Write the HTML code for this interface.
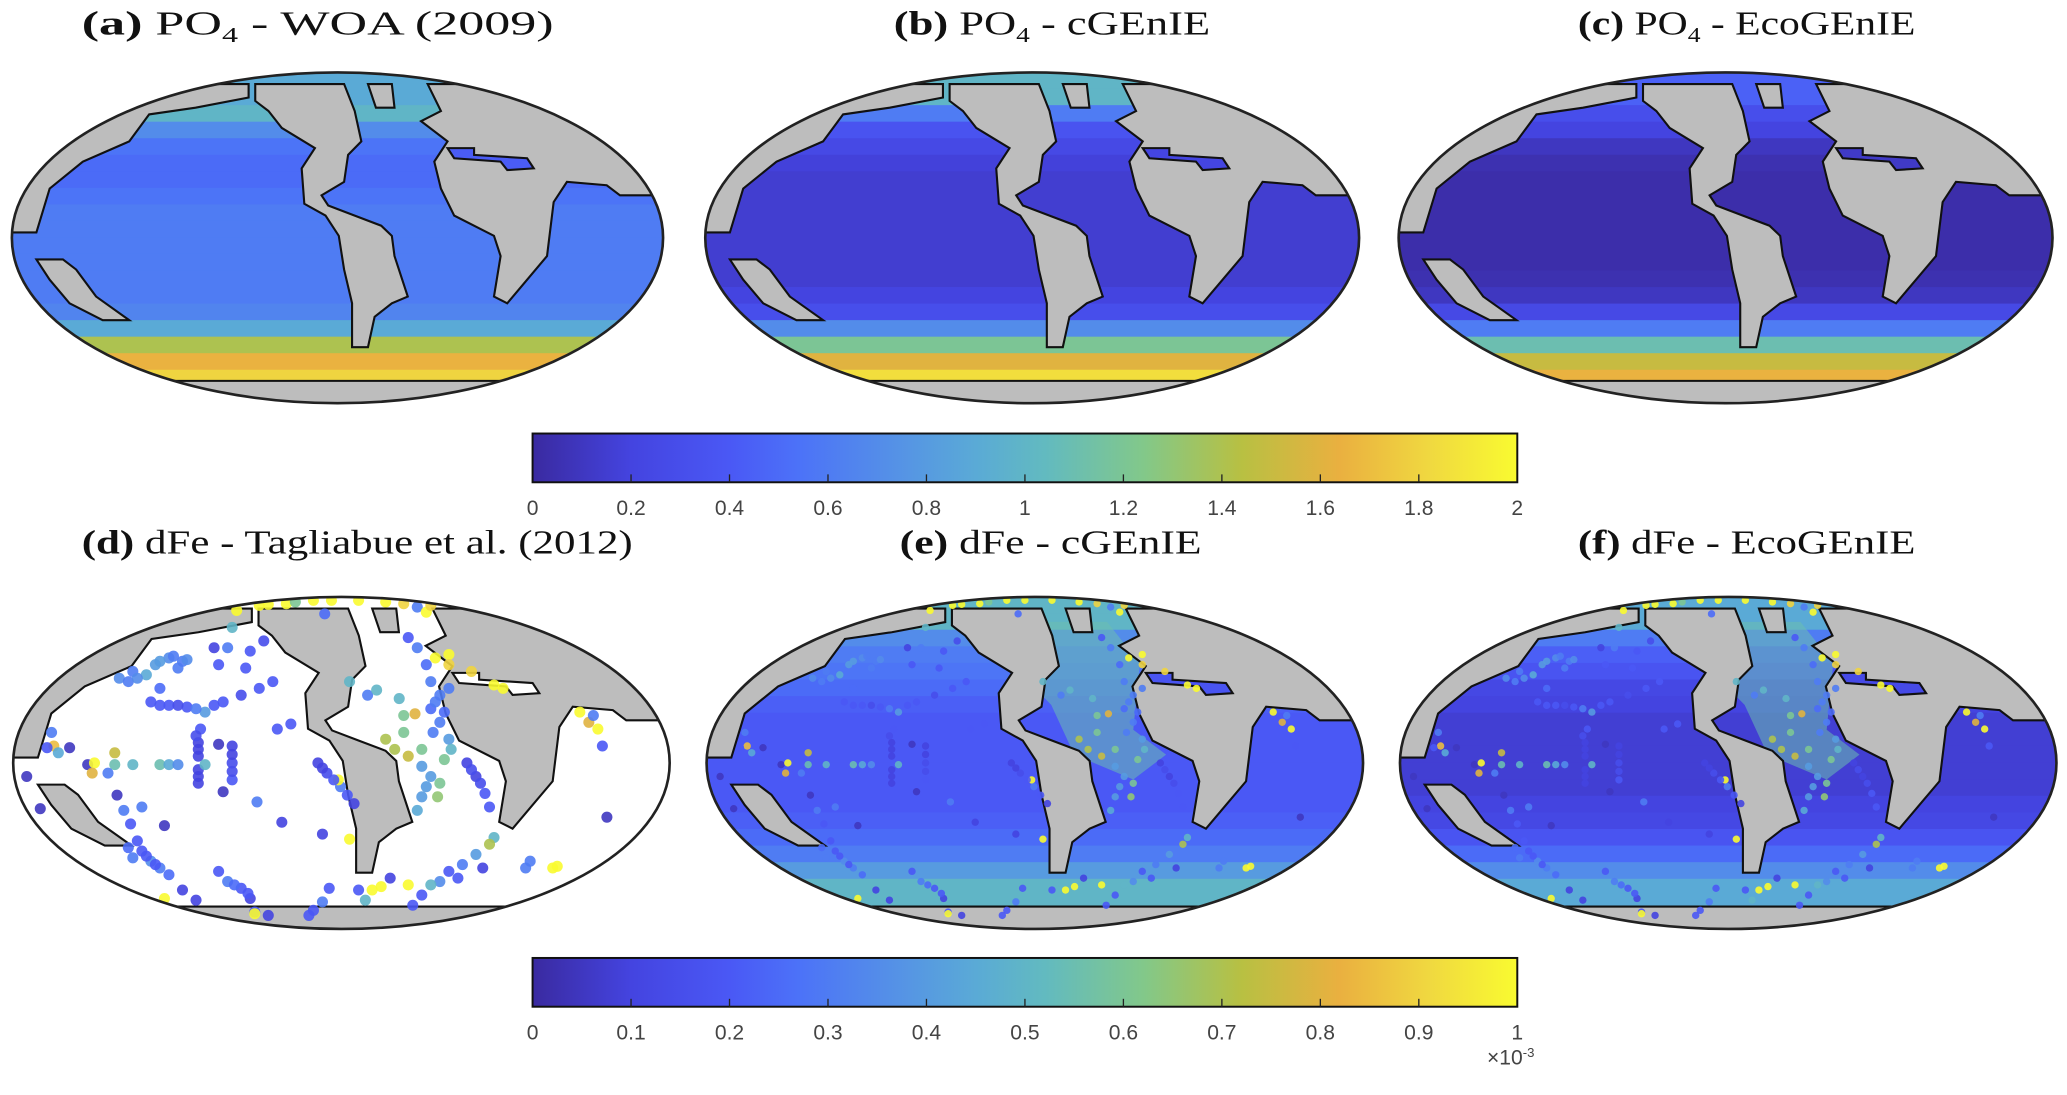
<!DOCTYPE html>
<html><head><meta charset="utf-8"><style>
html,body{margin:0;padding:0;background:#fff;}
svg{display:block;}
.t{font-family:"Liberation Serif",serif;font-size:26px;fill:#111;}
.cb{font-family:"Liberation Sans",sans-serif;font-size:16px;fill:#444;}
</style></head><body>
<svg id="fig" width="2067" height="1095" viewBox="0 0 1568 831" preserveAspectRatio="none" xmlns="http://www.w3.org/2000/svg">
<defs>
<linearGradient id="parula" x1="0" x2="1" y1="0" y2="0">
<stop offset="0" stop-color="#3a2aa0"/><stop offset="0.1" stop-color="#4444e0"/><stop offset="0.2" stop-color="#4a58f5"/><stop offset="0.27" stop-color="#4c72f8"/><stop offset="0.37" stop-color="#5592e6"/><stop offset="0.45" stop-color="#5aaad6"/><stop offset="0.52" stop-color="#62bac0"/><stop offset="0.62" stop-color="#82c88a"/><stop offset="0.72" stop-color="#b8c042"/><stop offset="0.82" stop-color="#eab040"/><stop offset="0.91" stop-color="#f0d840"/><stop offset="1" stop-color="#f9fb30"/>
</linearGradient>
</defs>
<g id="maps"></g>
<g id="bars"></g>
<text class="t" x="241" y="26" text-anchor="middle" textLength="358" lengthAdjust="spacingAndGlyphs"><tspan font-weight="bold">(a)</tspan> PO<tspan font-size="16" dy="6">4</tspan><tspan dy="-6"> - WOA (2009)</tspan></text>
<text class="t" x="798" y="26" text-anchor="middle" textLength="240" lengthAdjust="spacingAndGlyphs"><tspan font-weight="bold">(b)</tspan> PO<tspan font-size="16" dy="6">4</tspan><tspan dy="-6"> - cGEnIE</tspan></text>
<text class="t" x="1325" y="26" text-anchor="middle" textLength="256" lengthAdjust="spacingAndGlyphs"><tspan font-weight="bold">(c)</tspan> PO<tspan font-size="16" dy="6">4</tspan><tspan dy="-6"> - EcoGEnIE</tspan></text>
<text class="t" x="271" y="420" text-anchor="middle" textLength="418" lengthAdjust="spacingAndGlyphs"><tspan font-weight="bold">(d)</tspan> dFe - Tagliabue et al. (2012)</text>
<text class="t" x="797" y="420" text-anchor="middle" textLength="229" lengthAdjust="spacingAndGlyphs"><tspan font-weight="bold">(e)</tspan> dFe - cGEnIE</text>
<text class="t" x="1325" y="420" text-anchor="middle" textLength="256" lengthAdjust="spacingAndGlyphs"><tspan font-weight="bold">(f)</tspan> dFe - EcoGEnIE</text>
</svg>
<script>
// ---- data ----
const po4Ticks = ["0","0.2","0.4","0.6","0.8","1","1.2","1.4","1.6","1.8","2"];
const feTicks = ["0","0.1","0.2","0.3","0.4","0.5","0.6","0.7","0.8","0.9","1"];
// zonal band values, north (top) to south, 20 bands of 0.1 in normalized latitude
const bandsA = [0.9,0.9,1.0,0.7,0.55,0.5,0.5,0.55,0.6,0.6,0.6,0.6,0.6,0.6,0.65,0.9,1.4,1.65,1.8,1.8];
const bandsB = [1.0,1.0,0.6,0.35,0.25,0.18,0.15,0.15,0.15,0.15,0.15,0.15,0.15,0.2,0.3,0.7,1.2,1.6,1.85,1.85];
const bandsC = [0.45,0.45,0.3,0.2,0.1,0.05,0.03,0.03,0.03,0.03,0.03,0.03,0.05,0.1,0.25,0.6,1.1,1.5,1.65,1.65];
const bandsE = [0.5,0.5,0.35,0.3,0.28,0.25,0.22,0.2,0.2,0.2,0.2,0.2,0.2,0.22,0.25,0.3,0.4,0.5,0.5,0.5];
const bandsF = [0.45,0.45,0.3,0.22,0.18,0.12,0.1,0.08,0.08,0.08,0.08,0.08,0.1,0.12,0.18,0.25,0.35,0.45,0.45,0.45];
const atlE = 0.55, atlF = 0.55;
// observation stations (zoom coords of panel d) and dFe values (x1e-3)
const obs = [
[530,90,1],[580,75,1],[640,70,1],[700,60,1],[740,60,1],[660,65,.6],[860,65,1],[900,70,.9],[930,80,.3],[950,95,1],[725,100,.25],[600,72,1],[800,60,1],[960,75,.9],
[380,230,.35],[410,240,.3],[350,250,.4],[300,270,.3],[270,290,.35],[330,280,.45],[400,260,.3],[420,235,.35],[360,320,.25],[340,360,.2],[380,370,.2],[420,375,.2],[460,390,.4],[500,360,.2],[540,340,.15],[580,320,.2],[610,300,.2],[550,260,.2],[560,210,.2],[590,180,.15],[510,200,.3],[480,200,.1],[520,140,.5],[490,250,.2],[290,300,.3],[310,290,.35],[360,240,.4],[390,225,.3],[440,380,.3],[480,370,.2],[400,370,.15],[360,370,.2],
[450,440,.2],[445,480,.1],[445,520,.1],[445,560,.1],[445,600,.1],[520,490,.1],[520,540,.15],[520,590,.2],[490,485,.05],[500,625,.05],[440,460,.15],[445,500,.1],[445,580,.1],[520,515,.1],[520,565,.15],
[300,545,.5],[360,545,.55],[380,545,.45],[400,545,.35],[460,545,.5],[200,545,.05],[215,540,1],[260,545,.55],[245,570,.3],[210,570,.8],
[120,450,.3],[125,490,.85],[135,510,.45],[110,495,.2],[160,495,.05],[65,580,.05],[95,675,.05],[260,510,.75],
[265,635,.05],[280,680,.3],[295,720,.2],[320,670,.3],[370,725,.05],[310,770,.2],[320,800,.2],[340,830,.35],[360,850,.3],[380,870,.25],[300,820,.3],[370,940,1],[290,790,.25],[330,815,.2],[350,840,.2],
[490,860,.2],[510,890,.3],[540,910,.2],[560,940,.1],[570,980,.2],[600,990,.1],[410,915,.1],[440,945,.1],[570,985,1],[525,900,.25],[555,925,.2],
[575,655,.3],[630,715,.1],[720,750,.1],[735,910,.2],[720,950,.3],[700,975,.2],[690,990,.2],[780,765,1],[800,915,.2],[830,915,1],[850,905,1],[870,880,.1],[815,945,.5],[620,440,.2],[650,425,.2],
[710,540,.1],[730,570,.15],[760,610,.3],[790,660,.1],[755,590,1],[720,555,.1],[745,590,.2],[775,635,.2],
[910,170,.2],[930,200,.3],[950,250,.25],[960,300,.3],[980,340,.3],[960,380,.25],[980,420,.3],[1000,470,.4],[990,530,.6],[980,600,.6],[975,640,.65],[960,580,.4],[940,640,.4],[930,680,.45],[890,350,.5],[900,400,.6],[925,395,.8],[900,450,.6],[880,500,.7],[910,520,.75],[940,500,.6],[860,470,.7],[940,550,.4],[780,300,.5],[820,340,.3],[840,325,.5],[1000,320,.3],[1040,540,.1],[1060,580,.1],[1080,630,.2],[1090,670,.2],[970,230,1],[1000,220,1],[1050,270,.9],[1100,310,1],[1120,320,1],[1000,250,.9],[970,360,.3],[990,390,.25],[965,450,.3],[1005,500,.5],[950,610,.4],[1050,560,.15],[1070,600,.15],
[1290,390,1],[1310,420,.8],[1330,440,1],[1320,400,.3],[1340,490,.2],[1350,700,.05],
[1100,760,.5],[1090,780,.7],[1060,810,.4],[1030,840,.3],[1000,860,.2],[980,890,.35],[960,900,.5],[940,930,.2],[920,960,.2],[1075,850,.1],[1020,880,.2],[1170,850,.3],[1180,830,.3],[1230,850,1],[1240,845,1],[910,900,1]
];
// land outlines (zoom coords of panel a)
const land = [
[[-60,250],[190,250],[190,290],[150,320],[115,340],[100,420],[65,480],[40,560],[30,690],[-60,690]],
[[195,250],[262,250],[270,330],[275,420],[265,460],[262,540],[245,580],[250,610],[270,640],[290,670],[298,700],[300,760],[310,880],[298,900],[285,940],[280,1030],[268,1030],[268,900],[262,800],[258,700],[248,640],[232,605],[230,500],[240,440],[215,380],[205,330],[195,300]],
[[280,250],[298,250],[300,320],[286,320]],
[[325,250],[560,250],[560,580],[470,580],[460,550],[430,540],[420,600],[415,760],[400,830],[385,900],[375,880],[380,760],[375,700],[345,640],[335,560],[330,480],[340,420],[320,360],[335,330]],
[[30,770],[50,770],[60,800],[75,880],[100,950],[80,950],[55,900],[40,830]],
[[-60,1130],[560,1130],[560,1300],[-60,1300]]
];
const seas = [
[[340,440],[360,440],[360,460],[400,470],[405,500],[385,505],[380,480],[345,470]]
];
// ---- helpers ----
const NS='http://www.w3.org/2000/svg';
const stops=[[0,[58,42,160]],[0.1,[68,68,224]],[0.2,[74,88,245]],[0.27,[76,114,248]],[0.37,[85,146,230]],[0.45,[90,170,214]],[0.52,[98,186,192]],[0.62,[130,200,138]],[0.72,[184,192,66]],[0.82,[234,176,64]],[0.91,[240,216,64]],[1,[249,251,48]]];
function cmap(t){t=Math.max(0,Math.min(1,t));for(let i=1;i<stops.length;i++){if(t<=stops[i][0]){const a=stops[i-1],b=stops[i];const f=(t-a[0])/(b[0]-a[0]);const c=a[1].map((v,k)=>Math.round(v+(b[1][k]-v)*f));return 'rgb('+c.join(',')+')';}}return 'rgb(249,251,48)';}
function mk(tag,attrs,parent){const e=document.createElementNS(NS,tag);for(const k in attrs)e.setAttribute(k,attrs[k]);parent.appendChild(e);return e;}
const toUV = p=>p.map(([zx,zy])=>[(zx-257)/245.5,(180-zy/3.922)/125]);
const landUV = land.map(toUV);
const seaUV = seas.map(toUV);
const obsUV = obs.map(([zx,zy,v])=>[(zx-762)/727,(540-zy)/490,v]);
const maps=document.getElementById('maps');
let cid=0;
function panel(name,cx,cy,rx,ry,bands,vmax,dots,dotR,atl){
  const g=mk('g',{},maps);
  
  
  const id='clip'+(cid++);
  const cp=mk('clipPath',{id:id},g);
  mk('ellipse',{cx:cx,cy:cy,rx:rx,ry:ry},cp);
  const inner=mk('g',{'clip-path':'url(#'+id+')'},g);
  const X=u=>cx+u*rx, Y=v=>cy-v*ry;
  let seaFill='#fff';
  if(bands){
    bands.forEach((val,i)=>{
      const r=mk('rect',{x:cx-rx,y:Y(1-0.1*i)-0.3,width:2*rx,height:0.1*ry+0.6,fill:cmap(val/vmax)},inner);
      
      
    });
    seaFill=cmap(bands[5]/vmax);
    if(atl!=null){
      const p=mk('polygon',{points:[[0.0,0.85],[0.22,0.85],[0.32,0.6],[0.3,0.2],[0.4,0.05],[0.3,-0.1],[0.12,0.05],[0.05,0.35],[-0.05,0.55]].map(([u,v])=>X(u)+','+Y(v)).join(' '),fill:cmap(atl/vmax),opacity:0.55},inner);
      
      
    }
  } else {
    mk('rect',{x:cx-rx,y:cy-ry,width:2*rx,height:2*ry,fill:'#fff'},inner);
  }
  landUV.forEach(poly=>{
    const p=mk('polygon',{points:poly.map(([u,v])=>X(u)+','+Y(v)).join(' '),fill:'#bdbdbd',stroke:'#111','stroke-width':1.6,'stroke-linejoin':'miter'},inner);
    
    
  });
  seaUV.forEach(poly=>{
    const p=mk('polygon',{points:poly.map(([u,v])=>X(u)+','+Y(v)).join(' '),fill:bands?cmap(bands[3]/vmax*0.6):'#fff',stroke:'#111','stroke-width':1.6},inner);
    
    
  });
  if(dots){
    dots.forEach(([u,v,val])=>{
      const c=mk('circle',{cx:X(u),cy:Y(v),r:dotR,fill:cmap(val),opacity:0.9},inner);
      
      
    });
  }
  const o=mk('ellipse',{cx:cx,cy:cy,rx:rx,ry:ry,fill:'none',stroke:'#222','stroke-width':2},g);
  
  
}
panel('map-a',256,180.5,247,125.5,bandsA,2,null,0,null);
panel('map-b',783,180.5,248,125.5,bandsB,2,null,0,null);
panel('map-c',1309,180.5,248,125.5,bandsC,2,null,0,null);
panel('map-d',259,579,249,126,null,1,obsUV,4.2,null);
panel('map-e',785,579,249,126,bandsE,1,obsUV,2.8,atlE);
panel('map-f',1311,579,249,126,bandsF,1,obsUV,2.8,atlF);
const bars=document.getElementById('bars');
function colorbar(name,y,ticks){
  const g=mk('g',{},bars);
  
  
  const x0=404,x1=1151,h=37;
  mk('rect',{x:x0,y:y,width:x1-x0,height:h,fill:'url(#parula)',stroke:'#111','stroke-width':1.5},g);
  ticks.forEach((t,i)=>{
    const x=x0+(x1-x0)*i/(ticks.length-1);
    if(i>0&&i<ticks.length-1) mk('line',{x1:x,x2:x,y1:y+h-6,y2:y+h,stroke:'#222','stroke-width':1},g);
    const tx=mk('text',{x:x,y:y+h+25,'text-anchor':'middle','class':'cb'},g);
    tx.textContent=t;
    
    
  });
}
colorbar('colorbar-po4',329,po4Ticks);
colorbar('colorbar-dfe',727,feTicks);
const ex=mk('text',{x:1128,y:808,'class':'cb','font-size':'13'},bars);
ex.innerHTML='×10<tspan dy="-6" font-size="10">-3</tspan>';


</script>
</body></html>
